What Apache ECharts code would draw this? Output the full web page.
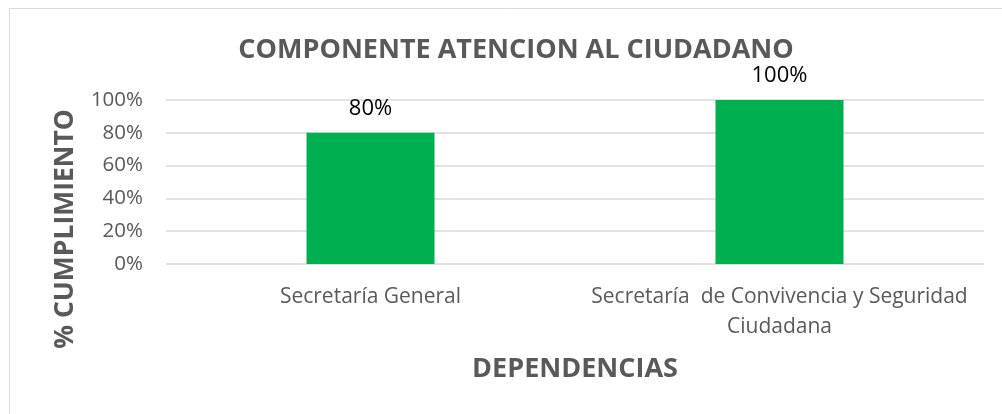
<!DOCTYPE html>
<html><head><meta charset="utf-8">
<script src="https://cdn.jsdelivr.net/npm/echarts@6/dist/echarts.min.js"></script>
<style>html,body{margin:0;padding:0;background:#fff}#c{width:1002px;height:414px}</style>
</head><body><div id="c"></div>
<script>
const categories = ['Secretaría General', 'Secretaría  de Convivencia y Seguridad\nCiudadana'];
const values = [0.8, 1.0];
const yTicks = [0, 0.2, 0.4, 0.6, 0.8, 1.0];
const titleText = 'COMPONENTE ATENCION AL CIUDADANO';
const xName = 'DEPENDENCIAS';
const yName = '% CUMPLIMIENTO';

const FONT = 'Open Sans';
const chart = echarts.init(document.getElementById('c'));
chart.setOption({
  animation: false,
  title: { text: titleText, left: 511, top: 32, textAlign: 'center',
    textStyle: { fontFamily: FONT, fontWeight: 'bold', fontSize: 27, color: '#595959' } },
  graphic: [
    { type: 'rect', shape: { x: 9.5, y: 8.5, width: 1100, height: 500 }, style: { fill: 'none', stroke: '#d9d9d9', lineWidth: 1 }, silent: true },
    { type: 'text', x: 65, y: 229, rotation: Math.PI / 2,
      style: { text: yName, fontFamily: FONT, fontWeight: 'bold', fontSize: 26.5, fill: '#595959', textAlign: 'center', textVerticalAlign: 'middle' } }
  ],
  grid: { left: 166, right: 18, top: 100, bottom: 150 },
  xAxis: {
    type: 'category', data: categories,
    axisLine: { show: false }, axisTick: { show: false },
    axisLabel: { interval: 0, margin: 18, fontFamily: FONT, fontSize: 21, color: '#595959', lineHeight: 30 },
    name: xName, nameLocation: 'middle', nameGap: 92,
    nameTextStyle: { fontFamily: FONT, fontWeight: 'bold', fontSize: 27, color: '#595959' }
  },
  yAxis: {
    type: 'value', min: 0, max: 1, interval: 0.2,
    axisLine: { show: false }, axisTick: { show: false },
    splitLine: { lineStyle: { color: '#d9d9d9', width: 1.5 } },
    axisLabel: { margin: 23, fontFamily: FONT, fontSize: 20.5, color: '#595959',
      formatter: v => { const t = yTicks.find(x => Math.abs(x - v) < 1e-9); return Math.round((t ?? v) * 100) + '%'; } }
  },
  series: [{
    type: 'bar', data: values, barWidth: 128,
    itemStyle: { color: '#00b050' },
    label: { show: true, position: 'top', distance: 13, fontFamily: FONT, fontSize: 22, color: '#000',
      formatter: p => Math.round(p.value * 100) + '%' }
  }]
});
</script></body></html>
